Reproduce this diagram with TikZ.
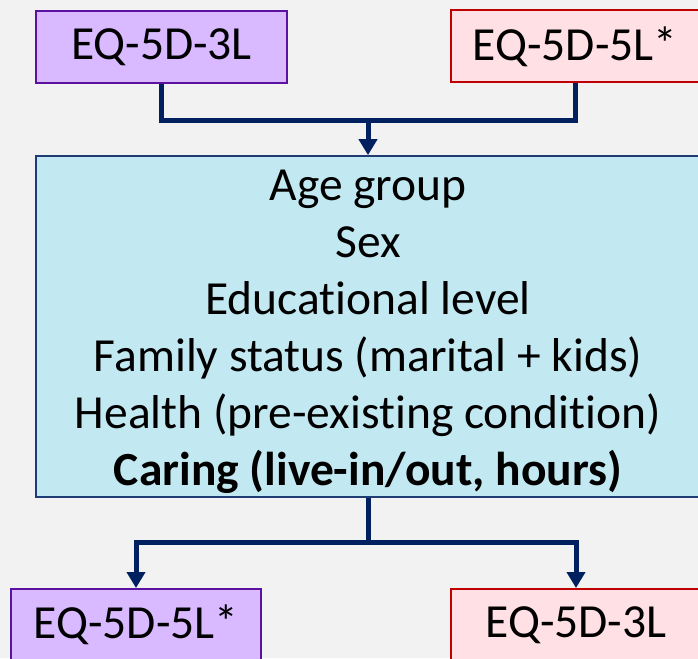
\documentclass[tikz,border=0pt]{standalone}
\usepackage{fontspec}
\setmainfont[Ligatures=NoCommon]{Carlito}
\usepackage{tikz}
\usetikzlibrary{arrows.meta, positioning, calc}

\definecolor{pagebg}{HTML}{F2F2F2}
\definecolor{lavfill}{HTML}{D9B9FF}
\definecolor{lavline}{HTML}{5B12A0}
\definecolor{pinkfill}{HTML}{FFE0E4}
\definecolor{pinkline}{HTML}{C00000}
\definecolor{cyanfill}{HTML}{C2E8F2}
\definecolor{cyanline}{HTML}{1F3C74}
\definecolor{navy}{HTML}{002060}

\begin{document}
\begin{tikzpicture}[
      x=1pt, y=1pt,
      version/.style={rectangle, draw, line width=2pt, minimum height=72pt, align=center, font=\fontsize{47.5}{57}\selectfont},
      oldver/.style={version, fill=lavfill, draw=lavline},
      newver/.style={version, fill=pinkfill, draw=pinkline},
      factorbox/.style={rectangle, draw=cyanline, fill=cyanfill, line width=2pt, minimum width=664pt, minimum height=333pt, align=center, font=\fontsize{47.5}{57}\selectfont},
      link/.style={draw=navy, line width=5pt},
      arrow/.style={link, -{Triangle[width=18pt, length=16pt]}}
      ]

      % Page
      \useasboundingbox[fill=pagebg] (0,0) rectangle (698,-658);

      % Top row
      \node[oldver, minimum width=251pt] (threeTop) at (161.5,-47.5) {EQ-5D-3L};
      \node[newver, minimum width=248pt] (fiveTop) at (575,-46.5) {EQ-5D-5L*};

      % Factors
      \node[factorbox] (factors) at (368,-326.5) {\rule{0pt}{41pt}Age group\\Sex\\Educational level\\Family status (marital + kids)\\Health (pre-existing condition)\\\textbf{Caring (live-in/out, hours)}};

      % Bottom row
      \node[oldver, minimum width=250pt] (fiveBot) at (136,-625) {EQ-5D-5L*};
      \node[newver, minimum width=250pt] (threeBot) at (576,-625) {EQ-5D-3L};

      % Junctions
      \coordinate (topJoin) at (368,-121);
      \coordinate (botJoin) at (368,-542);

      % Arrows - into factors
      \draw[link] (threeTop.south) |- (topJoin) -| (fiveTop.south);
      \draw[arrow] (topJoin) -- (factors.north);

      % Arrows - out of factors
      \draw[link] (factors.south) -- (botJoin);
      \draw[arrow] (botJoin) -| (fiveBot.north);
      \draw[arrow] (botJoin) -| (threeBot.north);

   \end{tikzpicture}
\end{document}
